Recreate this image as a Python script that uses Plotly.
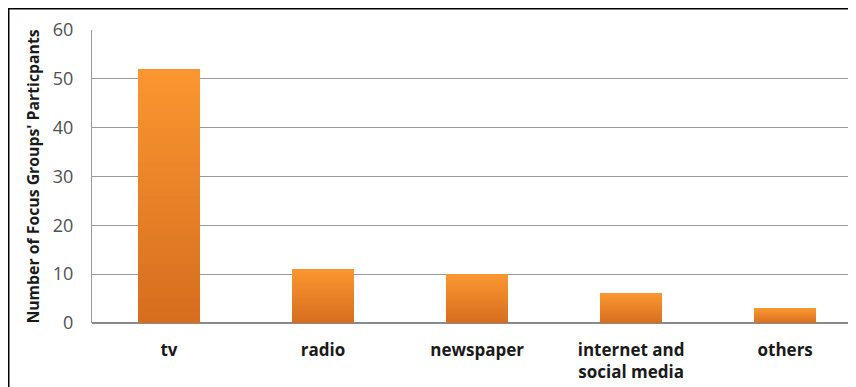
import plotly.graph_objects as go

categories = ["tv", "radio", "newspaper", "internet and<br>social media", "others"]
values = [52, 11, 10, 6, 3]
y_ticks = [0, 10, 20, 30, 40, 50, 60]

# page body adds an 8px offset, so the figure is 8px smaller than the window
W, H = 848, 379
ML, MR, MT, MB = 84, 0, 22, 64

top_rgb = (250, 150, 48)
bot_rgb = (214, 110, 30)
N = 30

fig = go.Figure()
for i in range(N):
    t = i / (N - 1)
    c = tuple(int(round(bot_rgb[k] + (top_rgb[k] - bot_rgb[k]) * t)) for k in range(3))
    fig.add_trace(go.Bar(
        x=categories, y=[v / N for v in values],
        marker=dict(color="rgb(%d,%d,%d)" % c, line=dict(width=0)),
        width=0.4, hoverinfo="skip", showlegend=False,
    ))

pw = W - ML - MR
ph = H - MT - MB
x_left = (0.75 - ML) / pw
y_top = (H - MB - 0.75) / ph
y_bot = (H - MB - 400) / ph

fig.update_layout(
    width=W, height=H,
    margin=dict(l=ML, r=MR, t=MT, b=MB, pad=0),
    barmode="stack", bargap=0.6,
    paper_bgcolor="white", plot_bgcolor="white",
    font=dict(family="'Open Sans', sans-serif", color="#222"),
    xaxis=dict(
        range=[-0.5, 4.46], showgrid=False, zeroline=False, automargin=False,
        showline=False, ticks="", ticklabelstandoff=15,
        tickfont=dict(size=17, family="Open Sans", color="#1a1a1a", weight="bold"),
    ),
    yaxis=dict(
        range=[0, 60], tickvals=y_ticks, showgrid=True, automargin=False,
        gridcolor="#9a9a9a", gridwidth=1, zeroline=True, zerolinecolor="#8a8a8a",
        showline=True, linecolor="#9a9a9a", linewidth=1,
        ticks="", ticklabelstandoff=14,
        tickfont=dict(size=18, family="Open Sans", color="#505050"),
        title=dict(text="Number of Focus Groups' Particpants", standoff=9,
                   font=dict(size=15.8, family="Open Sans", color="#1a1a1a", weight="bold")),
    ),
    shapes=[dict(
        type="path", xref="paper", yref="paper",
        path="M %f %f L %f %f L %f %f" % (x_left, y_bot, x_left, y_top, 1.1, y_top),
        line=dict(color="black", width=1.5),
    )],
)

fig.write_html("out.html")
